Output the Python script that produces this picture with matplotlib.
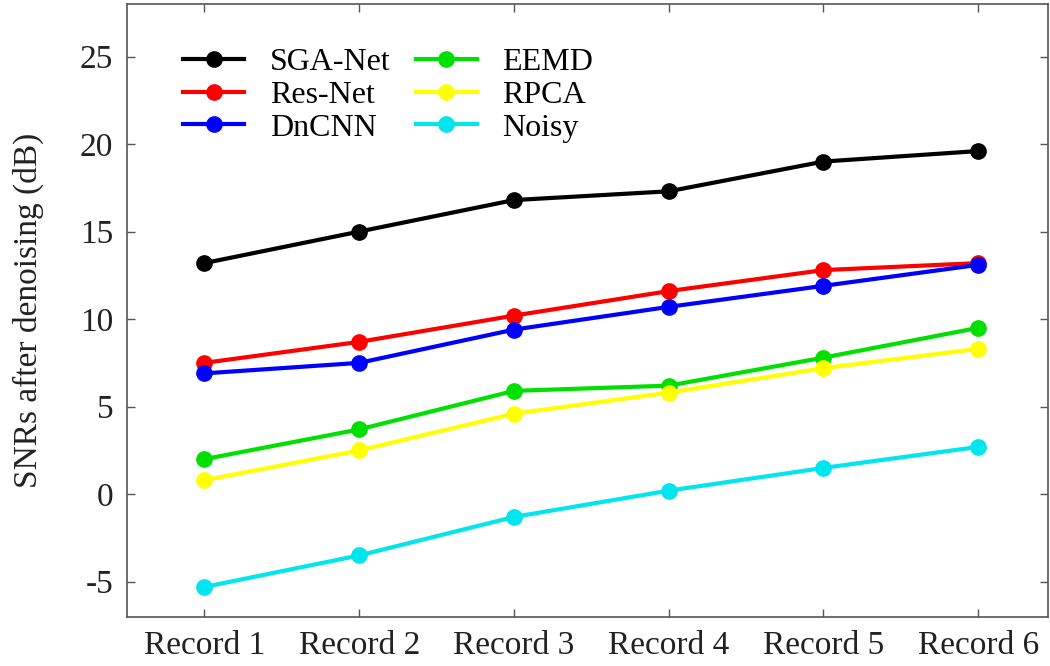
import numpy as np
import matplotlib.pyplot as plt

plt.rcParams['font.family'] = ['Liberation Serif', 'DejaVu Serif']
plt.rcParams['axes.unicode_minus'] = False

records = ['Record 1', 'Record 2', 'Record 3', 'Record 4', 'Record 5', 'Record 6']
sga_net = [13.2, 15.0, 16.8, 17.3, 19.0, 19.6]
res_net = [7.5, 8.7, 10.2, 11.6, 12.8, 13.2]
dncnn = [6.9, 7.5, 9.4, 10.7, 11.9, 13.1]
eemd = [2.0, 3.7, 5.9, 6.2, 7.8, 9.5]
rpca = [0.8, 2.5, 4.6, 5.8, 7.2, 8.3]
noisy = [-5.3, -3.5, -1.3, 0.2, 1.5, 2.7]

names = ['SGA-Net', 'Res-Net', 'DnCNN', 'EEMD', 'RPCA', 'Noisy']
series = [sga_net, res_net, dncnn, eemd, rpca, noisy]
colors = ['#000000', '#ff0000', '#0000ff', '#00e000', '#ffff00', '#00e5ee']

fig = plt.figure(figsize=(10.5, 6.66), dpi=100)
ax = fig.add_axes([0.121, 0.074, 0.877, 0.920])

x = np.arange(1, len(records) + 1)
for name, vals, c in zip(names, series, colors):
    ax.plot(x, vals, '-o', color=c, lw=3, ms=11, label=name)

ax.set_xlim(0.5, 6.45)
ax.set_ylim(-7, 28)
ax.set_xticks(x)
ax.set_xticklabels(records)
ax.set_yticks([-5, 0, 5, 10, 15, 20, 25])
ax.set_ylabel('SNRs after denoising (dB)', fontsize=24, color='#222222', labelpad=26)
ax.tick_params(direction='in', length=6, width=1, colors='#555555', labelsize=24,
               labelcolor='#222222', top=True, right=True, pad=10)
for s in ax.spines.values():
    s.set_color('#555555')
    s.set_linewidth(1.2)

leg = ax.legend(ncol=2, loc='upper left', bbox_to_anchor=(0.03, 0.975), frameon=False,
                fontsize=23, handlelength=1.9, labelspacing=0.1, columnspacing=0.8,
                handletextpad=0.8)

fig.savefig('out.png', dpi=100)
